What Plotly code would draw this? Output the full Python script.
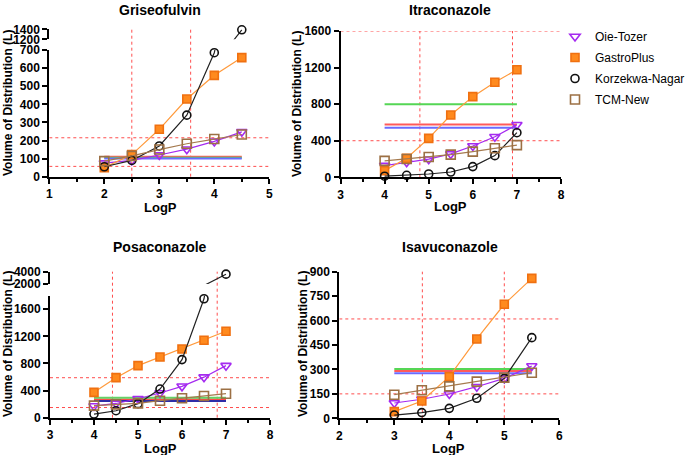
import plotly.graph_objects as go

W, H = 685, 455

# ---- data ----
models = ["Oie-Tozer", "GastroPlus", "Korzekwa-Nagar", "TCM-New"]

grise_logp = [2, 2.5, 3, 3.5, 4, 4.5]
grise_oie = [75, 90, 120, 152, 195, 248]
grise_gastro = [50, 122, 262, 429, 560, 658]
grise_kn = [55, 90, 170, 340, 685, 1390]
grise_tcm = [86, 115, 150, 182, 208, 233]
grise_obs = [110, 105, 100]          # red, green, blue horizontal lines
grise_vlines = [2.5, 3.57]
grise_hlines = [57, 215]

itra_logp = [4, 4.5, 5, 5.5, 6, 6.5, 7]
itra_oie = [128, 164, 198, 256, 342, 444, 574]
itra_gastro = [73, 208, 426, 681, 882, 1039, 1177]
itra_kn = [12, 22, 36, 58, 117, 237, 488]
itra_tcm = [180, 200, 222, 248, 281, 317, 352]
itra_obs = [578, 800, 543]
itra_vlines = [4.8, 6.9]
itra_hlines = [400, 1600]

posa_logp = [4, 4.5, 5, 5.5, 6, 6.5, 7]
posa_oie = [172, 210, 280, 364, 463, 598, 768]
posa_gastro = [374, 591, 768, 896, 1014, 1142, 1275]
posa_kn = [54, 103, 207, 423, 857, 1755, 3600]
posa_tcm = [178, 196, 212, 251, 286, 320, 354]
posa_obs = [268, 295, 246]
posa_vlines = [4.42, 6.8]
posa_hlines = [150, 590]

isa_logp = [3, 3.5, 4, 4.5, 5, 5.5]
isa_oie = [94, 117, 149, 194, 245, 321]
isa_gastro = [41, 106, 256, 487, 700, 859]
isa_kn = [20, 35, 61, 123, 245, 495]
isa_tcm = [145, 172, 196, 225, 250, 280]
isa_obs = [290, 303, 276]
isa_vlines = [3.51, 5.0]
isa_hlines = [150, 610]

# ---- styles ----
FONT = "Liberation Sans, Arial, sans-serif"
STY = {
    "Oie-Tozer": dict(line="#A52AF0", sym="triangle-down-open", fill="#A52AF0", mline="#A52AF0", size=9),
    "GastroPlus": dict(line="#FF9A3C", sym="square", fill="#FF8A1E", mline="#F07010", size=8),
    "Korzekwa-Nagar": dict(line="#222222", sym="circle-open", fill="#111111", mline="#111111", size=8),
    "TCM-New": dict(line="#A57A4E", sym="square-open", fill="#9C7044", mline="#9C7044", size=9),
}
OBS_COLORS = ["#FF5A5A", "#55D655", "#6B6BFF"]
REF = "#FF4D4D"

fig = go.Figure()


def px_x(p):
    return p / W


def px_y(p):
    return 1 - p / H


def add_panel(xa, yas, logp, series, obs, vlines, hlines, xr, obs_colors):
    xn = xa.replace("axis", "")
    # observed horizontal lines
    for val, col in zip(obs, obs_colors):
        for ya in yas:
            fig.add_trace(go.Scatter(x=[logp[0], logp[-1]], y=[val, val], mode="lines",
                                     line=dict(color=col, width=2), showlegend=False,
                                     xaxis=xn, yaxis=ya, hoverinfo="skip"))
    for name, vals in zip(models, series):
        s = STY[name]
        for ya in yas:
            fig.add_trace(go.Scatter(
                x=logp, y=vals, mode="lines+markers", name=name, showlegend=False,
                line=dict(color=s["line"], width=1.2), cliponaxis=False,
                marker=dict(symbol=s["sym"], size=s["size"], color=s["fill"],
                            line=dict(color=s["mline"], width=1.6)),
                xaxis=xn, yaxis=ya))
    # reference dotted lines
    ymin_dom = fig.layout[yas[0].replace("y", "yaxis")].domain[0]
    ymax_dom = fig.layout[yas[-1].replace("y", "yaxis")].domain[1]
    for v in vlines:
        fig.add_shape(type="line", xref=xn, yref="paper", x0=v, x1=v, y0=ymin_dom, y1=ymax_dom,
                      line=dict(color=REF, width=1, dash="dot"), layer="below")
    for h in hlines:
        fig.add_shape(type="line", xref=xn, yref=yas[0], x0=xr[0], x1=xr[1], y0=h, y1=h,
                      line=dict(color=REF, width=1, dash="dot"), layer="below")


axis_common = dict(showline=True, linecolor="black", linewidth=2, ticks="outside",
                   ticklen=5, tickwidth=2, tickcolor="black", showgrid=False, zeroline=False,
                   automargin=False,
                   tickfont=dict(family=FONT, size=12, color="black", weight="bold"))


def xaxis(dom, rng, anchor):
    return dict(axis_common, domain=[px_x(dom[0]), px_x(dom[1])], range=rng, anchor=anchor,
                dtick=1, tick0=0, minor=dict(ticks="outside", dtick=0.5, ticklen=3, tickwidth=1.5,
                                             tickcolor="black"))


def yaxis(dom, rng, anchor, tickvals):
    return dict(axis_common, domain=[px_y(dom[0]), px_y(dom[1])], range=rng, anchor=anchor,
                tickmode="array", tickvals=tickvals)


fig.update_layout(
    width=W, height=H, margin=dict(l=0, r=0, t=0, b=0, pad=0, autoexpand=False),
    paper_bgcolor="white", plot_bgcolor="rgba(0,0,0,0)",
    font=dict(family=FONT, color="black"),
    # Griseofulvin
    xaxis=xaxis((49.3, 269.3), [1, 5], "y"),
    yaxis=yaxis((176.7, 50), [0, 700], "x", list(range(0, 701, 100))),
    yaxis2=yaxis((39.3, 29.3), [1200, 1400], "x", [1200, 1400]),
    # Itraconazole
    xaxis2=xaxis((340.5, 561), [3, 8], "y3"),
    yaxis3=yaxis((177.3, 31), [0, 1600], "x2", list(range(0, 1601, 400))),
    # Posaconazole
    xaxis3=xaxis((50, 270), [3, 8], "y4"),
    yaxis4=yaxis((417.7, 295.7), [0, 1800], "x3", list(range(0, 1601, 400))),
    yaxis5=yaxis((284, 271.7), [2000, 4000], "x3", [2000, 4000]),
    # Isavuconazole
    xaxis4=xaxis((339.3, 559.3), [2, 6], "y6"),
    yaxis6=yaxis((418.3, 271.7), [0, 900], "x4", list(range(0, 901, 150))),
    legend=dict(x=px_x(555), y=px_y(22), xanchor="left", yanchor="top",
                traceorder="grouped", tracegroupgap=2,
                font=dict(family=FONT, size=12, color="black"), bgcolor="rgba(0,0,0,0)"),
)

add_panel("xaxis", ["y", "y2"], grise_logp, [grise_oie, grise_gastro, grise_kn, grise_tcm],
          grise_obs, grise_vlines, grise_hlines, [1, 5], OBS_COLORS)
add_panel("xaxis2", ["y3"], itra_logp, [itra_oie, itra_gastro, itra_kn, itra_tcm],
          itra_obs, itra_vlines, itra_hlines, [3, 8], OBS_COLORS)
add_panel("xaxis3", ["y4", "y5"], posa_logp, [posa_oie, posa_gastro, posa_kn, posa_tcm],
          posa_obs, posa_vlines, posa_hlines, [3, 8], ["#FF4A4A", "#66D166", "#2E2EA8"])
add_panel("xaxis4", ["y6"], isa_logp, [isa_oie, isa_gastro, isa_kn, isa_tcm],
          isa_obs, isa_vlines, isa_hlines, [2, 6], OBS_COLORS)

# legend entries (markers only), one group each so the gap spaces the rows
for name in models:
    s = STY[name]
    fig.add_trace(go.Scatter(x=[None], y=[None], mode="markers", name=name, legendgroup=name,
                             marker=dict(symbol=s["sym"], size=s["size"], color=s["fill"],
                                         line=dict(color=s["mline"], width=1.6))))

# panel titles and axis titles
def label(text, x, y, size, angle=0):
    fig.add_annotation(text=text, x=px_x(x), y=px_y(y), xref="paper", yref="paper",
                       xanchor="center", yanchor="middle", showarrow=False, textangle=angle,
                       font=dict(size=size, weight="bold"))


for t, x, y in [("Griseofulvin", 160, 10), ("Itraconazole", 450, 10),
                ("Posaconazole", 160, 247), ("Isavuconazole", 450, 247)]:
    label(t, x, y, 14)
for x, y in [(8, 103), (297, 104), (8, 344), (303, 344)]:
    label("Volume of Distribution (L)", x, y, 12, -90)
for x, y in [(160, 208), (450, 207), (160, 448), (448, 448)]:
    label("LogP", x, y, 13)

fig.write_html("out.html", config={"displayModeBar": False},
               post_script="document.body.style.margin='0';")
